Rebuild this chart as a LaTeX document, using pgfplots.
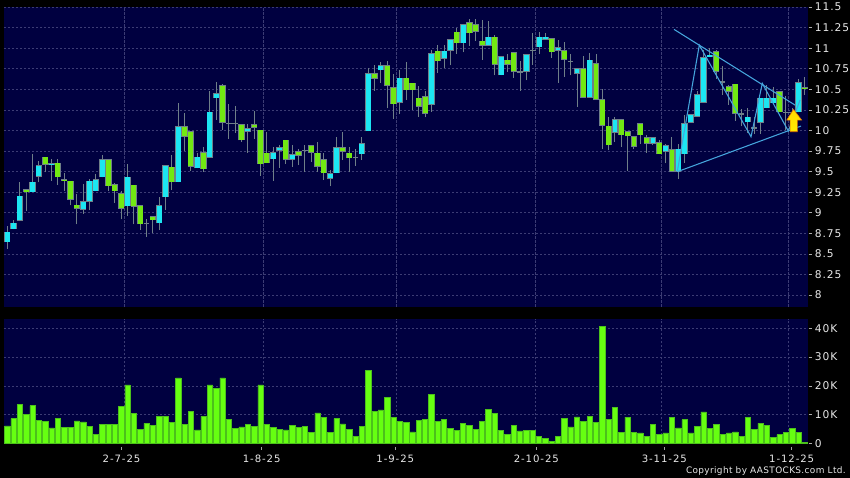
\documentclass[border=0pt]{standalone}
\usepackage{fontspec}
\setmainfont{DejaVu Sans}
\newfontfamily\lblfont[LetterSpace=9]{DejaVu Sans}
\newfontfamily\crfont[LetterSpace=4]{DejaVu Sans}
\usepackage{pgfplots}
\usepackage{pgfplotstable}
\pgfplotsset{compat=1.18}
\definecolor{navy}{HTML}{000040}
\definecolor{gridc}{HTML}{3C3C74}
\definecolor{cand}{HTML}{6F7F88}
\definecolor{ccyan}{HTML}{1CE6F2}
\definecolor{cgreen}{HTML}{72E812}
\definecolor{vgreen}{HTML}{66FF11}
\definecolor{vedge}{HTML}{4CC01C}
\definecolor{trend}{HTML}{45A5DC}
\definecolor{txt}{HTML}{E8E8E8}
% k: 0 = cyan (up), 1 = green (down), 2 = doji
\pgfplotstableread{
lo bot top hi k
8.56 8.64 8.77 8.84 0
8.80 8.80 8.88 8.91 0
8.90 8.90 9.21 9.37 0
9.02 9.25 9.29 9.29 1
9.25 9.25 9.38 9.71 0
9.37 9.44 9.58 9.63 0
9.49 9.58 9.68 9.68 1
9.39 9.58 9.60 9.65 0
9.34 9.43 9.61 9.65 1
9.27 9.39 9.41 9.48 1
9.09 9.16 9.39 9.39 1
8.86 9.05 9.10 9.23 1
8.99 9.04 9.14 9.35 0
9.03 9.13 9.39 9.41 0
9.26 9.26 9.41 9.47 0
9.43 9.43 9.65 9.70 0
9.27 9.32 9.65 9.65 1
9.12 9.26 9.35 9.36 1
8.92 9.05 9.24 9.26 1
8.96 9.08 9.44 9.59 0
8.86 9.07 9.34 9.34 1
8.79 8.86 9.09 9.09 1
8.71 8.87 8.87 8.93 2
8.76 8.91 8.96 8.96 1
8.79 8.87 9.09 9.19 0
9.04 9.19 9.58 9.58 0
9.28 9.37 9.56 9.70 1
9.37 9.37 10.05 10.33 0
9.75 9.92 10.05 10.21 1
9.51 9.56 9.99 9.99 1
9.54 9.54 9.68 9.73 0
9.50 9.53 9.74 9.80 1
9.67 9.67 10.23 10.48 0
10.13 10.39 10.45 10.59 0
10.01 10.09 10.55 10.57 1
9.90 10.09 10.09 10.32 2
9.97 10.09 10.09 10.30 2
9.86 9.88 10.08 10.08 1
9.73 9.98 10.03 10.08 0
9.90 10.03 10.08 10.24 1
9.45 9.59 10.01 10.01 1
9.60 9.60 9.73 9.98 1
9.39 9.65 9.74 9.80 0
9.55 9.75 9.80 9.82 0
9.59 9.64 9.89 9.89 1
9.56 9.64 9.71 9.82 0
9.58 9.69 9.75 9.78 1
9.49 9.76 9.76 9.82 2
9.62 9.73 9.82 9.82 1
9.50 9.56 9.73 9.86 1
9.40 9.48 9.65 9.73 1
9.32 9.41 9.48 9.52 0
9.48 9.48 9.80 9.92 0
9.64 9.74 9.80 9.98 1
9.49 9.66 9.73 9.80 1
9.57 9.67 9.67 9.78 2
9.64 9.71 9.85 9.92 0
9.99 9.99 10.70 10.76 0
10.48 10.63 10.70 10.80 1
10.58 10.73 10.79 10.83 0
10.27 10.54 10.79 10.84 1
10.14 10.32 10.53 10.69 1
10.20 10.34 10.64 10.73 0
10.37 10.49 10.64 10.83 1
10.25 10.49 10.58 10.58 1
10.17 10.29 10.40 10.54 1
10.16 10.20 10.42 10.48 1
10.23 10.31 10.94 10.98 0
10.70 10.84 10.97 11.04 1
10.76 10.87 10.97 11.04 0
10.79 10.97 11.11 11.11 0
10.93 11.06 11.20 11.24 1
10.95 11.06 11.29 11.29 0
11.03 11.18 11.32 11.36 1
11.09 11.20 11.29 11.36 1
10.86 11.03 11.09 11.34 1
11.03 11.03 11.14 11.33 0
10.67 10.80 11.14 11.16 1
10.67 10.67 10.90 10.90 0
10.71 10.80 10.86 10.93 1
10.64 10.71 10.95 10.95 1
10.48 10.71 10.71 10.84 2
10.61 10.71 10.93 10.93 0
10.80 10.97 10.97 11.19 2
10.93 11.01 11.14 11.20 0
11.10 11.10 11.14 11.19 0
10.88 10.95 11.12 11.12 1
10.58 10.97 11.01 11.10 0
10.65 10.86 10.98 11.07 1
10.67 10.84 10.84 10.93 2
10.29 10.69 10.76 10.76 0
10.40 10.40 10.76 10.90 1
10.40 10.40 10.86 10.94 0
10.37 10.37 10.82 10.93 1
9.77 10.06 10.38 10.51 1
9.76 9.82 10.06 10.17 1
9.86 9.97 10.14 10.16 0
9.80 9.94 10.14 10.14 1
9.51 9.93 9.99 9.99 1
9.77 9.80 9.93 9.93 1
9.84 9.94 10.09 10.09 1
9.73 9.84 9.92 9.95 1
9.82 9.84 9.92 9.92 0
9.71 9.71 9.86 9.88 1
9.60 9.74 9.82 9.84 0
9.50 9.50 9.77 9.92 1
9.41 9.50 9.78 9.84 0
9.61 9.71 10.09 10.19 0
10.09 10.09 10.20 10.20 0
10.17 10.17 10.44 10.48 0
10.34 10.34 10.89 10.98 0
10.89 10.89 10.92 11.00 0
10.63 10.71 10.96 10.98 1
10.43 10.59 10.59 10.78 2
10.31 10.47 10.54 10.55 1
10.12 10.20 10.57 10.57 1
10.05 10.20 10.20 10.26 2
9.97 10.10 10.17 10.27 0
9.96 10.03 10.03 10.17 2
9.96 10.09 10.40 10.40 0
10.27 10.27 10.40 10.55 0
10.33 10.33 10.40 10.53 0
10.22 10.22 10.48 10.48 1
10.01 10.22 10.22 10.42 2
10.05 10.22 10.22 10.27 2
10.22 10.22 10.59 10.63 0
10.43 10.50 10.53 10.65 1
}\candles
\pgfplotstableread{
x v
0 6.1
1 8.6
2 13.6
3 10.1
4 13.1
5 8.0
6 7.6
7 5.4
8 8.7
9 5.5
10 5.6
11 7.8
12 7.5
13 6.0
14 3.0
15 6.6
16 6.6
17 6.7
18 12.8
19 20.3
20 10.5
21 4.8
22 6.9
23 6.2
24 9.4
25 9.5
26 7.4
27 22.8
28 6.7
29 11.1
30 4.7
31 9.4
32 20.3
33 19.1
34 22.8
35 8.3
36 5.2
37 5.7
38 6.7
39 5.9
40 20.3
41 6.7
42 5.6
43 4.8
44 4.7
45 6.2
46 5.5
47 5.9
48 3.7
49 10.6
50 8.9
51 3.7
52 8.6
53 6.8
54 4.8
55 2.4
56 5.9
57 25.4
58 11.1
59 11.6
60 16.0
61 9.0
62 7.7
63 7.2
64 4.0
65 7.9
66 8.3
67 16.9
68 7.6
69 8.3
70 5.3
71 4.4
72 7.0
73 6.2
74 4.8
75 7.7
76 11.7
77 10.3
78 4.5
79 3.1
80 6.2
81 4.3
82 4.6
83 4.6
84 2.4
85 1.6
86 0.7
87 2.5
88 8.6
89 5.7
90 9.2
91 7.7
92 9.4
93 7.2
94 40.7
95 8.4
96 12.6
97 3.9
98 9.1
99 3.8
100 3.6
101 2.4
102 6.6
103 3.2
104 3.6
105 9.1
106 5.4
107 8.2
108 3.6
109 6.0
110 10.9
111 5.1
112 6.7
113 3.0
114 3.6
115 4.0
116 2.4
117 9.1
118 4.9
119 6.9
120 6.3
121 2.0
122 3.0
123 3.8
124 5.2
125 3.7
126 0.4
}\volumes
\pgfplotsset{
  chartaxis/.style={
    scale only axis, width=603pt,
    xmin=-0.521, xmax=126.49,
    axis background/.style={fill=navy},
    axis line style={draw=none},
    xtick={18.51,40.44,61.45,83.47,103.37,123.45},
    xticklabels={}, xmajorgrids, ymajorgrids,
    major grid style={gridc,line width=0.45pt,dash pattern=on 1.6pt off 1.4pt},
    ytick pos=right, xtick pos=bottom,
    y tick style={draw=txt!75!black,line width=0.5pt,xshift=3pt},
    y tick label style={text=txt,anchor=west,inner xsep=0pt,xshift=4.9pt,font=\lblfont\fontsize{8}{9}\selectfont,/pgf/number format/assume math mode=true},
    x tick label style={text=txt,font=\lblfont\fontsize{7.6}{9}\selectfont},
    clip=true,
  },
  bodylayer/.style={draw=none,no markers,error bars/y dir=plus,error bars/y explicit,error bars/error mark=none},
}
\begin{document}
\begin{tikzpicture}
\fill[black] (0pt,0pt) rectangle (637.5pt,358.5pt);
\path[use as bounding box] (0pt,0pt) rectangle (637.5pt,358.5pt);
\begin{axis}[chartaxis, at={(3pt,128.6pt)}, anchor=south west, height=224.6pt,
  ymin=7.861, ymax=11.5,
  ytick={8,8.25,8.5,8.75,9,9.25,9.5,9.75,10,10.25,10.5,10.75,11,11.25,11.5},
  major tick length=2.4pt, x tick style={draw=none},
]
% wicks
\addplot[bodylayer,error bars/error bar style={draw=cand,line width=0.75pt}]
  table[x expr=\coordindex,y=lo,y error plus expr={\thisrow{hi}-\thisrow{lo}}] {\candles};
% doji bars
\addplot[bodylayer,error bars/error bar style={draw=cand,line width=4.2pt}]
  table[x expr={\thisrow{k}==2?\coordindex:nan},y expr={\thisrow{bot}-0.007},y error plus expr={\thisrow{top}-\thisrow{bot}+0.014}] {\candles};
% body outlines
\addplot[bodylayer,error bars/error bar style={draw=cand,line width=4.7pt}]
  table[x expr={\thisrow{k}<2?\coordindex:nan},y=bot,y error plus expr={\thisrow{top}-\thisrow{bot}}] {\candles};
% cyan bodies
\addplot[bodylayer,error bars/error bar style={draw=ccyan,line width=3.7pt}]
  table[x expr={\thisrow{k}==0?\coordindex:nan},y expr={\thisrow{bot}+0.008},y error plus expr={\thisrow{top}-\thisrow{bot}-0.016}] {\candles};
% green bodies
\addplot[bodylayer,error bars/error bar style={draw=cgreen,line width=3.7pt}]
  table[x expr={\thisrow{k}==1?\coordindex:nan},y expr={\thisrow{bot}+0.008},y error plus expr={\thisrow{top}-\thisrow{bot}-0.016}] {\candles};
\addplot[trend,line width=0.8pt] coordinates {(105.32,11.229) (124.44,10.309)};
\addplot[trend,line width=0.8pt] coordinates {(105.84,9.499) (125.39,10.054)};
\addplot[trend,line width=0.8pt] coordinates {(105.84,9.499) (109.32,11.038) (117.49,9.924) (119.27,10.573) (123.38,9.993) (125.23,10.37)};
\addplot[draw=orange!85!black,line width=0.4pt,top color=yellow!70!orange,bottom color=yellow!85!orange] coordinates {(124.2,10.257) (125.49,10.127) (124.8,10.127) (124.8,9.985) (123.65,9.985) (123.65,10.127) (123.13,10.127)} -- cycle;
\end{axis}
\begin{axis}[chartaxis, at={(3pt,26pt)}, anchor=south west, height=93.2pt,
  ymin=0, ymax=43.23,
  ytick={0,10,20,30,40}, yticklabels={0,10K,20K,30K,40K},
  major tick length=2.4pt, x tick style={draw=none},
  extra x ticks={18.04,40.19,61.29,83.57,103.79,123.91},
  extra x tick labels={2-7-25,1-8-25,1-9-25,2-10-25,3-11-25,1-12-25},
  extra x tick style={grid=none,tick align=outside,x tick style={draw=txt!70!black,line width=0.5pt,yshift=-2.5pt},x tick label style={yshift=-3pt}},
]
\addplot[ybar,bar shift=0pt,bar width=4pt,fill=vgreen,draw=vedge,line width=0.4pt] table[x=x,y=v] {\volumes};
\end{axis}
\node[anchor=east,text=txt,font=\crfont\fontsize{6.7}{9}\selectfont,inner sep=0pt] at (634.5pt,5.3pt) {Copyright by AASTOCKS.com Ltd.};
\end{tikzpicture}
\end{document}
